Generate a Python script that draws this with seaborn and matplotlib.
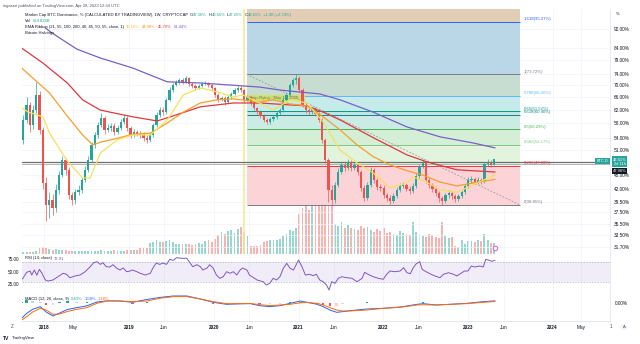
import matplotlib
matplotlib.use("Agg")
import numpy as np
import pandas as pd
import matplotlib.pyplot as plt
import seaborn as sns
from matplotlib.lines import Line2D
from matplotlib.ticker import NullLocator, NullFormatter

sns.set_style("white")
plt.rcParams["font.family"] = ["Liberation Sans", "DejaVu Sans"]

# ---------------- data ----------------
# bi-weekly candles of BTC dominance (%), last bar = week of 2023-04-24
closes = [53.5, 59.0, 63.5, 57.6, 61.9, 66.7, 56.2, 43.3, 38.9, 39.8,
          38.3, 41.9, 45.0, 48.5, 46.2, 40.8, 39.8, 41.4, 41.9, 43.9,
          46.2, 48.5, 52.2, 54.8, 57.6, 59.6, 56.2, 56.7, 57.3, 55.6,
          56.7, 58.4, 59.6, 56.7, 54.8, 55.6, 55.1, 54.8, 54.0, 53.5,
          54.8, 57.6, 60.4, 61.9, 61.3, 65.1, 68.3, 70.0, 71.1, 71.7,
          71.1, 72.5, 70.4, 69.7, 69.0, 69.7, 70.4, 70.7, 70.0, 69.0,
          66.7, 65.1, 65.7, 64.4, 66.0, 67.0, 68.3, 69.0, 68.3, 65.1,
          66.0, 64.1, 62.6, 61.3, 60.1, 59.0, 58.4, 59.3, 59.9, 61.0,
          61.9, 65.1, 66.7, 70.0, 71.7, 72.5, 68.3, 63.5, 61.9, 61.3,
          62.2, 60.7, 59.0, 53.5, 48.5, 41.9, 39.8, 42.9, 45.8, 47.3,
          46.6, 48.0, 46.6, 47.3, 45.8, 42.3, 40.2, 42.9, 46.2, 43.9,
          42.5, 42.3, 40.8, 40.2, 39.6, 40.6, 41.9, 42.7, 42.9, 42.1,
          41.7, 42.7, 44.8, 47.1, 47.8, 43.9, 42.9, 42.1, 41.2, 40.2,
          39.6, 40.8, 41.2, 40.6, 40.0, 40.6, 41.4, 42.7, 43.9, 44.1,
          43.5, 43.9, 43.7, 47.5, 48.0, 47.36, 48.61]
highs = [55.0, 60.5, 66.0, 64.5, 63.5, 71.0, 68.0, 57.0, 44.5, 41.5,
         41.0, 43.0, 46.0, 49.5, 49.0, 46.8, 41.5, 42.0, 42.8, 44.5,
         47.0, 49.5, 53.0, 55.6, 58.5, 61.0, 60.0, 57.8, 58.2, 58.0,
         57.5, 59.2, 60.4, 60.0, 57.2, 56.3, 56.2, 55.8, 55.5, 54.8,
         55.5, 58.2, 61.2, 62.8, 63.0, 65.8, 69.2, 70.8, 71.8, 72.5,
         72.5, 73.2, 72.8, 71.0, 70.3, 70.4, 71.0, 71.5, 71.2, 70.5,
         69.4, 67.2, 66.4, 66.2, 66.6, 67.6, 68.9, 69.6, 69.5, 68.7,
         66.6, 66.4, 64.6, 63.0, 61.8, 60.6, 59.6, 59.9, 60.5, 61.6,
         62.6, 65.6, 67.4, 70.8, 72.6, 73.72, 73.0, 69.0, 64.3, 62.6,
         62.9, 62.7, 61.3, 59.5, 54.0, 49.0, 42.8, 43.6, 46.5, 48.0,
         47.9, 48.8, 48.5, 48.0, 47.8, 46.2, 42.8, 43.5, 46.9, 46.7,
         44.4, 43.1, 42.8, 41.3, 40.8, 41.2, 42.4, 43.3, 43.5, 43.4,
         42.6, 43.3, 45.4, 47.6, 48.6, 48.2, 44.4, 43.4, 42.6, 41.7,
         40.7, 41.3, 41.8, 41.7, 41.1, 41.1, 41.9, 43.2, 44.5, 44.8,
         44.6, 44.5, 44.4, 48.0, 48.7, 48.5, 48.66]
lows = [49.0, 52.5, 58.0, 55.5, 56.5, 61.0, 55.0, 42.0, 36.0, 36.5,
        37.0, 37.5, 41.0, 44.5, 45.0, 40.0, 38.8, 39.0, 40.8, 41.2,
        43.5, 45.8, 48.0, 51.5, 54.0, 57.0, 55.0, 55.5, 56.0, 54.8,
        55.0, 56.2, 57.8, 56.0, 54.0, 54.2, 54.5, 54.0, 53.2, 52.6,
        53.0, 54.3, 57.0, 59.8, 60.5, 60.8, 64.6, 67.8, 69.5, 70.3,
        70.3, 70.6, 69.8, 69.0, 68.3, 68.6, 69.2, 70.0, 69.4, 68.3,
        66.0, 64.4, 64.6, 63.6, 64.0, 65.5, 66.6, 67.8, 67.6, 64.5,
        64.6, 63.5, 62.0, 60.6, 59.5, 58.3, 57.7, 57.9, 58.8, 59.4,
        60.5, 61.4, 64.6, 66.2, 69.4, 70.5, 67.5, 62.8, 61.0, 60.5,
        60.8, 60.0, 58.3, 52.8, 47.8, 39.5, 38.85, 39.3, 42.4, 45.2,
        46.0, 46.1, 46.0, 46.1, 45.1, 41.7, 39.6, 39.8, 42.4, 43.3,
        41.9, 41.7, 40.2, 39.6, 39.0, 39.2, 40.2, 41.4, 42.2, 41.6,
        41.1, 41.2, 42.3, 44.3, 46.6, 43.3, 42.3, 41.5, 40.6, 39.5,
        38.9, 39.2, 40.3, 40.1, 39.5, 39.6, 40.2, 41.0, 42.3, 43.4,
        43.0, 43.1, 43.2, 43.4, 47.0, 46.9, 47.25]
first_open = 51.5
last_bar_date = "2023-04-24"

volumes_b = [60, 80, 100, 90, 120, 150, 300, 340, 320, 250,
             220, 230, 200, 210, 190, 160, 150, 140, 150, 140,
             150, 160, 150, 170, 160, 180, 170, 160, 170, 180,
             170, 160, 170, 180, 190, 180, 200, 300, 320, 280,
             550, 600, 700, 620, 580, 650, 700, 600, 520, 500,
             480, 520, 500, 460, 520, 540, 500, 650, 700, 620,
             750, 950, 1100, 1000, 1150, 1200, 1050, 1250, 1350, 1100,
             900, 400, 380, 420, 450, 600, 650, 700, 720, 680,
             750, 900, 1000, 1200, 1150, 1300, 2000, 2300, 2600, 2200,
             2500, 2800, 2700, 2400, 2600, 2800, 3000, 1500, 1400, 1600,
             1300, 1450, 1300, 1250, 1200, 1400, 1300, 1350, 1200, 1100,
             1250, 1150, 1300, 1050, 1100, 1000, 950, 1150, 1050, 1000,
             950, 1600, 1100, 1000, 900, 850, 1000, 950, 850, 800,
             1600, 900, 800, 850, 400, 350, 700, 500, 650, 650,
             600, 700, 650, 1000, 700, 550, 540]

ema200_t = [2018.01, 2018.09, 2018.38, 2018.66, 2019.04, 2019.45, 2019.84, 2020.54,
            2020.78, 2021.25, 2021.49, 2021.88, 2022.28, 2022.67, 2023.06, 2023.32]
ema200 = [92.6, 90.3, 83.5, 79.9, 76.1, 71.1, 70.7, 69.3,
          68.3, 67.0, 65.1, 61.3, 57.0, 54.3, 52.7, 51.44]

ema100_t = [2017.73, 2017.98, 2018.27, 2018.45, 2018.66, 2019.04, 2019.33, 2019.45, 2019.84, 2020.23,
            2020.54, 2020.90, 2021.10, 2021.29, 2021.49, 2021.88, 2022.28, 2022.52, 2022.87, 2023.32]
ema100 = [83.9, 78.0, 70.7, 65.1, 61.9, 59.9, 58.7, 59.6, 62.9, 64.1,
          64.1, 63.5, 63.2, 61.3, 59.0, 54.1, 49.7, 48.0, 46.2, 45.70]

ema55_t = [2017.73, 2017.86, 2018.06, 2018.26, 2018.45, 2018.57, 2018.66, 2018.86, 2019.04, 2019.25,
           2019.45, 2019.64, 2019.84, 2020.04, 2020.23, 2020.54, 2020.70, 2020.90, 2021.10, 2021.29,
           2021.49, 2021.69, 2021.88, 2022.08, 2022.28, 2022.47, 2022.67, 2022.87, 2023.06, 2023.32]
ema55 = [76.1, 72.5, 67.3, 60.4, 54.8, 52.2, 52.9, 53.9, 55.0, 55.3,
         58.1, 61.3, 64.1, 65.1, 65.4, 64.4, 65.1, 63.8, 63.2, 59.9,
         56.2, 52.2, 49.3, 47.3, 46.0, 45.0, 43.5, 42.7, 43.3, 44.08]

ema21_t = [2017.73, 2017.81, 2017.98, 2018.06, 2018.26, 2018.45, 2018.54, 2018.66, 2018.86, 2019.04,
           2019.25, 2019.45, 2019.64, 2019.84, 2020.04, 2020.23, 2020.34, 2020.54, 2020.70, 2020.90,
           2021.10, 2021.29, 2021.49, 2021.69, 2021.88, 2022.08, 2022.28, 2022.35, 2022.47, 2022.67,
           2022.87, 2023.06, 2023.32]
ema21 = [62.6, 61.3, 59.9, 55.3, 48.5, 44.4, 44.4, 50.2, 53.5, 54.8,
         54.8, 59.0, 66.7, 69.0, 67.7, 66.0, 66.7, 64.1, 61.9, 65.1,
         64.1, 58.4, 50.9, 47.8, 45.5, 42.3, 43.3, 44.6, 43.9, 41.9,
         41.4, 42.9, 45.10]

rsi_t = [2017.74, 2017.79, 2017.83, 2017.85, 2017.88, 2017.91, 2017.94, 2017.97, 2018.01, 2018.04,
         2018.10, 2018.16, 2018.22, 2018.26, 2018.30, 2018.36, 2018.42, 2018.48, 2018.54, 2018.58,
         2018.62, 2018.66, 2018.69, 2018.73, 2018.77, 2018.81, 2018.85, 2018.89, 2018.93, 2018.97,
         2019.01, 2019.04, 2019.09, 2019.13, 2019.19, 2019.25, 2019.28, 2019.32, 2019.36, 2019.40,
         2019.44, 2019.48, 2019.52, 2019.56, 2019.62, 2019.68, 2019.72, 2019.75, 2019.80, 2019.84,
         2019.87, 2019.92, 2019.95, 2019.99, 2020.03, 2020.07, 2020.11, 2020.15, 2020.19, 2020.23,
         2020.27, 2020.31, 2020.34, 2020.39, 2020.42, 2020.51, 2020.58, 2020.62, 2020.66, 2020.70,
         2020.74, 2020.78, 2020.82, 2020.86, 2020.90, 2020.94, 2021.00, 2021.04, 2021.08, 2021.13,
         2021.17, 2021.21, 2021.25, 2021.29, 2021.33, 2021.36, 2021.39, 2021.43, 2021.47, 2021.51,
         2021.57, 2021.63, 2021.69, 2021.75, 2021.78, 2021.82, 2021.88, 2021.94, 2022.00, 2022.04,
         2022.08, 2022.14, 2022.20, 2022.24, 2022.28, 2022.32, 2022.35, 2022.39, 2022.43, 2022.46,
         2022.49, 2022.55, 2022.61, 2022.67, 2022.71, 2022.77, 2022.83, 2022.87, 2022.91, 2022.96,
         2023.00, 2023.04, 2023.08, 2023.14, 2023.18, 2023.21, 2023.25, 2023.28, 2023.32]
rsi = [35.4, 48.8, 51.4, 43.4, 53.4, 43.0, 54.8, 46.8, 33.4, 31.4,
       33.4, 40.0, 46.8, 44.8, 38.0, 41.4, 43.4, 50.0, 60.0, 68.0,
       70.0, 64.6, 68.0, 60.0, 59.4, 64.0, 57.4, 53.4, 57.4, 50.0,
       51.4, 53.4, 50.0, 46.8, 43.4, 46.8, 57.4, 67.4, 64.6, 67.4,
       64.6, 74.8, 72.8, 78.0, 76.8, 76.8, 67.4, 60.0, 64.0, 60.0,
       53.4, 57.4, 64.0, 57.4, 43.4, 36.8, 40.0, 50.0, 46.8, 50.0,
       43.4, 53.4, 57.4, 53.4, 43.4, 33.4, 30.0, 23.4, 26.8, 36.8,
       33.4, 40.0, 56.8, 66.8, 56.8, 53.4, 73.4, 60.0, 43.4, 44.8,
       42.0, 44.8, 33.4, 30.0, 23.4, 13.4, 30.0, 26.8, 36.8, 40.0,
       38.0, 36.8, 30.0, 36.8, 48.8, 44.8, 40.0, 36.8, 34.8, 44.8,
       51.4, 50.0, 51.4, 58.0, 48.0, 46.0, 56.8, 66.0, 70.0, 54.8,
       51.4, 46.0, 41.4, 38.0, 44.8, 48.0, 44.8, 41.4, 46.0, 51.4,
       51.4, 61.4, 59.4, 61.4, 59.4, 74.8, 72.8, 70.8, 72.91]

macd_t = [2017.73, 2017.79, 2017.86, 2017.95, 2018.02, 2018.10, 2018.18, 2018.27, 2018.38, 2018.50,
          2018.62, 2018.74, 2018.89, 2019.04, 2019.21, 2019.36, 2019.52, 2019.68, 2019.84, 2019.99,
          2020.15, 2020.31, 2020.43, 2020.54, 2020.66, 2020.78, 2020.90, 2021.02, 2021.10, 2021.22,
          2021.29, 2021.37, 2021.45, 2021.52, 2021.61, 2021.81, 2022.00, 2022.20, 2022.40, 2022.47,
          2022.63, 2022.79, 2022.99, 2023.18, 2023.32]
macd = [-8.9, -5.9, -3.5, -1.9, -5.1, -7.5, -5.7, -3.6, -2.5, -1.4,
        0.9, 1.6, 1.5, 0.7, 2.4, 3.6, 4.5, 4.5, 2.7, 0.7,
        -0.5, -0.2, -0.1, -1.3, -1.9, -1.3, 0.1, 1.5, 0.7, -0.5,
        -1.9, -3.9, -5.3, -4.9, -4.3, -3.3, -2.9, -2.1, -0.5, -0.1,
        -0.9, -0.5, 0.1, 1.1, 1.58]
signal = [-9.9, -7.9, -5.1, -2.9, -3.9, -6.5, -6.3, -4.8, -3.5, -2.5,
          0.1, 1.5, 1.5, 1.1, 1.5, 3.1, 4.1, 4.1, 2.7, 1.1,
          -0.1, -0.1, 0.0, -0.7, -1.3, -0.9, -0.5, 0.4, 0.6, 0.1,
          -0.9, -2.5, -3.9, -4.5, -4.5, -3.9, -2.9, -2.3, -0.9, -0.8,
          -0.9, -0.5, -0.1, 0.7, 1.18]

fib_ratios = ["1.618", "1", "0.786", "0.65", "0.618", "0.5", "0.382", "0.236", "0"]
fib_prices = [95.27, 73.72, 66.26, 61.52, 60.40, 56.29, 52.17, 47.08, 38.85]
fib_line_colors = ["#2962ff", "#787b86", "#64b5f6", "#089981", "#1c7f8c", "#4caf50", "#81c784", "#f23645", "#787b86"]
fib_fill_colors = ["#b9d7e7", "#c7ddd1", "#c6ebeb", "#bfe6e2", "#cbece4", "#d5efd7", "#e2f3de", "#fcd4d7"]
fib_start, fib_end = 2020.39, 2023.62
halving_date = 2020.36

price_ticks = [92, 84, 79, 74, 70, 66, 62, 58, 54, 51, 45, 42, 39.5, 37.5, 35.5, 33.5, 31.7]
time_ticks = [2018.0, 2018.34, 2019.0, 2019.41, 2020.0, 2020.42, 2021.0, 2021.42,
              2022.0, 2022.42, 2023.0, 2023.42, 2024.0, 2024.34]
time_labels = ["2018", "May", "2019", "Jun", "2020", "Jun", "2021", "Jun",
               "2022", "Jun", "2023", "Jun", "2024", "May"]

# ---------------- figure ----------------
W, H = 640, 344
fig = plt.figure(figsize=(W / 100, H / 100), dpi=100)
fig.patch.set_facecolor("white")
TXT = "#131722"
TEAL = "#26a69a"
RED = "#ef5350"
GRID = "#f0f3fa"
SEP = "#e0e3eb"


def rect(x0, y0, x1, y1):
    return [x0 / W, 1 - y1 / H, (x1 - x0) / W, (y1 - y0) / H]


X0, X1 = 21.7, 610
XLIM = (2017.731, 2024.677)

dates = pd.date_range(end=last_bar_date, periods=len(closes), freq="14D")
t = np.asarray(dates.year + (dates.dayofyear - 1) / 365.25, dtype=float)
cl = np.array(closes)
op = np.array([first_open] + closes[:-1])
up = cl >= op
ccol = np.where(up, TEAL, RED)

# volume axis (behind)
axv = fig.add_axes(rect(X0, 9, X1, 254))
axv.bar(t, volumes_b, width=0.022, color=np.where(up, "#9ad6d0", "#f8b2b0"), linewidth=0, zorder=1)
axv.set_xlim(XLIM)
axv.set_ylim(0, 12250)
axv.axis("off")

# main price axis
ax = fig.add_axes(rect(X0, 9, X1, 254))
ax.set_facecolor("none")
ax.set_yscale("log")
ax.set_axisbelow(True)

# fib fills & levels
ax.fill_between([fib_start, fib_end], fib_prices[0], 120, color="#e2cdb6", lw=0, zorder=0.8)
for i in range(len(fib_prices) - 1):
    ax.fill_between([fib_start, fib_end], fib_prices[i + 1], fib_prices[i],
                    color=fib_fill_colors[i], lw=0, zorder=0.8)
for r, p, c in zip(fib_ratios, fib_prices, fib_line_colors):
    ax.hlines(p, fib_start, fib_end, color=c, lw=0.7, zorder=1.2)
    ax.text(2023.655, p * 1.004, f"{r}({p:.2f}%)", color=c, fontsize=3.1,
            ha="left", va="bottom", zorder=6)
ax.plot([fib_start, fib_end], [fib_prices[1], fib_prices[-1]], color="#9598a1",
        lw=0.6, ls=(0, (2, 2)), zorder=1.4)

# annotation box
ax.fill_between([2020.39, 2021.08], 64.6, 66.8, color="#d5e35c", alpha=0.9, lw=0, zorder=1.3)
ax.text(2020.42, 65.7, "Stop-Flying - May 1st 2020", fontsize=3.0, color="#6a6d78",
        va="center", ha="left", zorder=1.35)

# halving line
ax.axvline(halving_date, color="#f6e88a", lw=1.1, zorder=1.0)

# horizontal lines
ax.axhline(47.96, color="#6e6e6e", lw=0.9, zorder=2.5)
ax.axhline(47.55, color="#b4b4b4", lw=0.7, zorder=2.5)

# candles
ax.vlines(t, lows, highs, colors=ccol, lw=0.5, zorder=2.9)
ax.bar(t, cl - op, bottom=op, width=0.026, color=ccol, linewidth=0, zorder=3)

# EMA ribbon
for tt, vv, c in [(ema200_t, ema200, "#7b5fc7"), (ema100_t, ema100, "#e0383e"),
                  (ema55_t, ema55, "#f5a02a"), (ema21_t, ema21, "#f5e15a")]:
    sns.lineplot(x=tt, y=vv, ax=ax, color=c, lw=0.9, zorder=4, legend=False,
                 estimator=None, sort=False)

ax.set_xlim(XLIM)
ax.set_ylim(30.58, 101.6)
ax.set_xlabel("")
ax.set_ylabel("")
ax.yaxis.tick_right()
ax.set_yticks(price_ticks)
ax.set_yticklabels([f"{v:.2f}%" for v in price_ticks])
ax.yaxis.set_minor_locator(NullLocator())
ax.yaxis.set_minor_formatter(NullFormatter())
ax.set_xticks(time_ticks)
ax.tick_params(axis="y", length=0, pad=3, labelsize=3.4, labelcolor=TXT)
ax.tick_params(axis="x", length=0, labelbottom=False)
ax.grid(True, color=GRID, lw=0.5)

# RSI pane
axr = fig.add_axes(rect(X0, 254.3, X1, 292.3))
axr.axhspan(30, 70, color="#7e57c2", alpha=0.1, lw=0)
axr.axhline(70, color="#b0b3bb", lw=0.5, ls=(0, (2, 2)))
axr.axhline(30, color="#b0b3bb", lw=0.5, ls=(0, (2, 2)))
sns.lineplot(x=rsi_t, y=rsi, ax=axr, color="#7e57c2", lw=0.7, legend=False,
             estimator=None, sort=False)
axr.set_xlim(XLIM)
axr.set_ylim(8.8, 84.8)
axr.set_xlabel("")
axr.set_ylabel("")
axr.set_yticks([25, 50, 75])
axr.set_yticklabels(["25.00", "50.00", "75.00"])
axr.set_xticks(time_ticks)
axr.tick_params(axis="y", length=0, pad=2, labelsize=3.3, labelcolor=TXT)
axr.tick_params(axis="x", length=0, labelbottom=False)
axr.grid(True, axis="x", color=GRID, lw=0.5)
axr.set_axisbelow(True)

# MACD pane
axm = fig.add_axes(rect(X0, 292.3, X1, 321))
hist = np.array(macd) - np.array(signal)
hcols = []
prev = 0.0
for h in hist:
    if h >= 0:
        hcols.append("#26a69a" if h > prev else "#b2dfdb")
    else:
        hcols.append("#ff5252" if h < prev else "#ffcdd2")
    prev = h
axm.bar(macd_t, hist, width=0.03, color=hcols, linewidth=0, zorder=1)
sns.lineplot(x=macd_t, y=macd, ax=axm, color="#2962ff", lw=0.7, legend=False,
             estimator=None, sort=False, zorder=2)
sns.lineplot(x=macd_t, y=signal, ax=axm, color="#ff6d00", lw=0.7, legend=False,
             estimator=None, sort=False, zorder=2)
axm.set_xlim(XLIM)
axm.set_ylim(-10.5, 6.7)
axm.set_xlabel("")
axm.set_ylabel("")
axm.yaxis.tick_right()
axm.set_yticks([0])
axm.set_yticklabels(["0.00%"])
axm.set_xticks(time_ticks)
axm.set_xticklabels(time_labels)
for lab, s in zip(axm.get_xticklabels(), time_labels):
    if s.isdigit():
        lab.set_fontweight("bold")
axm.tick_params(axis="y", length=0, pad=3.5, labelsize=3.4, labelcolor=TXT)
axm.tick_params(axis="x", length=0, pad=3.0, labelsize=3.4, labelcolor=TXT)
axm.grid(True, axis="x", color=GRID, lw=0.5)
axm.set_axisbelow(True)

for a in (ax, axr, axm):
    a.spines["top"].set_visible(False)
    a.spines["left"].set_visible(False)
    a.spines["right"].set_color(SEP)
    a.spines["right"].set_linewidth(0.5)
    a.spines["bottom"].set_color(SEP)
    a.spines["bottom"].set_linewidth(0.6)

# ---------------- texts ----------------
renderer = fig.canvas.get_renderer()


def row(x, y, parts, size=3.0):
    for s, c, gap in parts:
        tx = fig.text(x / W, 1 - y / H, s, color=c, fontsize=size, ha="left", va="center")
        x += tx.get_window_extent(renderer).width + gap


fig.text(3.3 / W, 1 - 5.7 / H, "ingaseri published on TradingView.com, Apr 28, 2023 12:34 UTC",
         fontsize=3.0, color="#50535e", va="center")
row(25, 15, [("Market Cap BTC Dominance, % (CALCULATED BY TRADINGVIEW), 1W, CRYPTOCAP", TXT, 2),
             ("O", TXT, 0), ("47.36%", TEAL, 1.5), ("H", TXT, 0), ("48.66%", TEAL, 1.5),
             ("L", TXT, 0), ("47.25%", TEAL, 1.5), ("C", TXT, 0), ("48.61%", TEAL, 1.5),
             ("+1.30 (+2.74%)", TEAL, 0)])
row(25, 20.8, [("Vol", TXT, 2), ("539.824B", TEAL, 0)])
row(25, 26.8, [("EMA Ribbon (21, 55, 100, 200, 40, 45, 50, 55, close, 1)", TXT, 2),
               ("45.10%", "#e8cf2e", 2), ("44.08%", "#f59a1b", 2), ("45.70%", "#e53935", 2),
               ("51.44%", "#7e57c2", 0)])
row(25, 33.3, [("Bitcoin Halvings", TXT, 0)])
row(25, 258.5, [("RSI (14, close)", TXT, 2), ("72.91", "#7e57c2", 0)])
row(25, 299, [("MACD (12, 26, close, 9)", TXT, 2), ("0.40%", TEAL, 2),
              ("1.58%", "#2962ff", 2), ("1.18%", "#ff6d00", 0)])

fig.text(616 / W, 1 - 14 / H, "%", fontsize=3.2, color=TXT, va="center")
fig.text(602.5 / W, 1 - 161 / H, "BTC.D", fontsize=2.8, color="white", ha="center", va="center",
         bbox=dict(fc=TEAL, ec="none", boxstyle="square,pad=0.3"))
fig.text(619.5 / W, 1 - 161.5 / H, "48.61%\n2d 11h", fontsize=2.9, color="white", ha="center",
         va="center", linespacing=1.0, bbox=dict(fc=TEAL, ec="none", boxstyle="square,pad=0.25"))
fig.text(619.5 / W, 1 - 170.8 / H, "47.96%", fontsize=2.9, color="white", ha="center",
         va="center", bbox=dict(fc=TXT, ec="none", boxstyle="square,pad=0.25"))

fig.text(12 / W, 1 - 327 / H, "Z", fontsize=3.3, color="#50535e", ha="center", va="center")
fig.text(611 / W, 1 - 327 / H, "1", fontsize=3.3, color="#50535e", ha="center", va="center")
fig.text(624 / W, 1 - 327 / H, "A", fontsize=3.0, color="#50535e", ha="center", va="center",
         bbox=dict(fc="#f0f3fa", ec="none", boxstyle="circle,pad=0.3"))
fig.text(3 / W, 1 - 338.5 / H, "TV", fontsize=3.6, color=TXT, fontweight="bold", va="center")
fig.text(12 / W, 1 - 338.5 / H, "TradingView", fontsize=3.1, color=TXT, va="center")
fig.add_artist(Line2D([495 / W], [1 - 248 / H], marker="o", ms=3.2, mfc="white",
                      mec="#d05ce3", mew=0.7, transform=fig.transFigure))

fig.savefig("out.png", dpi=100, facecolor="white")
